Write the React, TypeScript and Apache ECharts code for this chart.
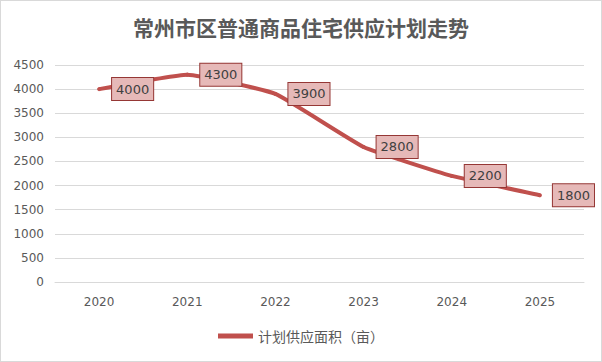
import React, { useEffect, useRef } from "react";
import * as echarts from "echarts";

const title = "常州市区普通商品住宅供应计划走势";
const seriesName = "计划供应面积（亩）";
const years = ["2020", "2021", "2022", "2023", "2024", "2025"];
const supply = [4000, 4300, 3900, 2800, 2200, 1800];

export default function App() {
  const ref = useRef<HTMLDivElement>(null);
  useEffect(() => {
    document.body.style.margin = "0";
    const chart = echarts.init(ref.current!, null, { renderer: "svg" });
    chart.setOption({
      animation: false,
      backgroundColor: "#ffffff",
      title: {
        text: title,
        left: "center",
        top: 10,
        textStyle: {
          fontFamily: "Noto Sans CJK SC",
          fontSize: 21,
          fontWeight: "bold",
          color: "#595959",
        },
      },
      legend: {
        bottom: 13,
        left: "center",
        itemWidth: 35,
        itemHeight: 5,
        itemGap: 5,
        icon: "rect",
        itemStyle: { color: "#c0504d" },
        textStyle: { fontFamily: "Noto Sans CJK SC", fontSize: 14, color: "#595959" },
        data: [seriesName],
      },
      grid: { left: 54, right: 17, top: 64, bottom: 79 },
      xAxis: {
        type: "category",
        data: years,
        boundaryGap: true,
        axisLine: { lineStyle: { color: "#d9d9d9" } },
        axisTick: { show: false },
        axisLabel: { color: "#595959", fontSize: 12, margin: 14, fontFamily: "DejaVu Sans" },
      },
      yAxis: {
        type: "value",
        min: 0,
        max: 4500,
        interval: 500,
        axisLine: { show: false },
        axisTick: { show: false },
        splitLine: { lineStyle: { color: "#d9d9d9" } },
        axisLabel: {
          color: "#595959",
          fontSize: 12,
          margin: 11,
          fontFamily: "DejaVu Sans",
          formatter: (v: number) => String(v),
        },
      },
      series: [
        {
          name: seriesName,
          type: "line",
          data: supply,
          smooth: 0.12,
          symbol: "circle",
          symbolSize: 4,
          showSymbol: true,
          lineStyle: { color: "#c0504d", width: 4 },
          itemStyle: { color: "#c0504d" },
          label: {
            show: true,
            position: "right",
            distance: 11,
            color: "#404040",
            fontSize: 13,
            fontFamily: "DejaVu Sans",
            backgroundColor: "#e6b9b8",
            borderColor: "#953735",
            borderWidth: 1,
            padding: [5, 4, 4, 4],
          },
        },
      ],
    });
    return () => chart.dispose();
  }, []);
  return (
    <div
      ref={ref}
      style={{ width: 602, height: 362, border: "1px solid #d9d9d9", boxSizing: "border-box" }}
    />
  );
}
